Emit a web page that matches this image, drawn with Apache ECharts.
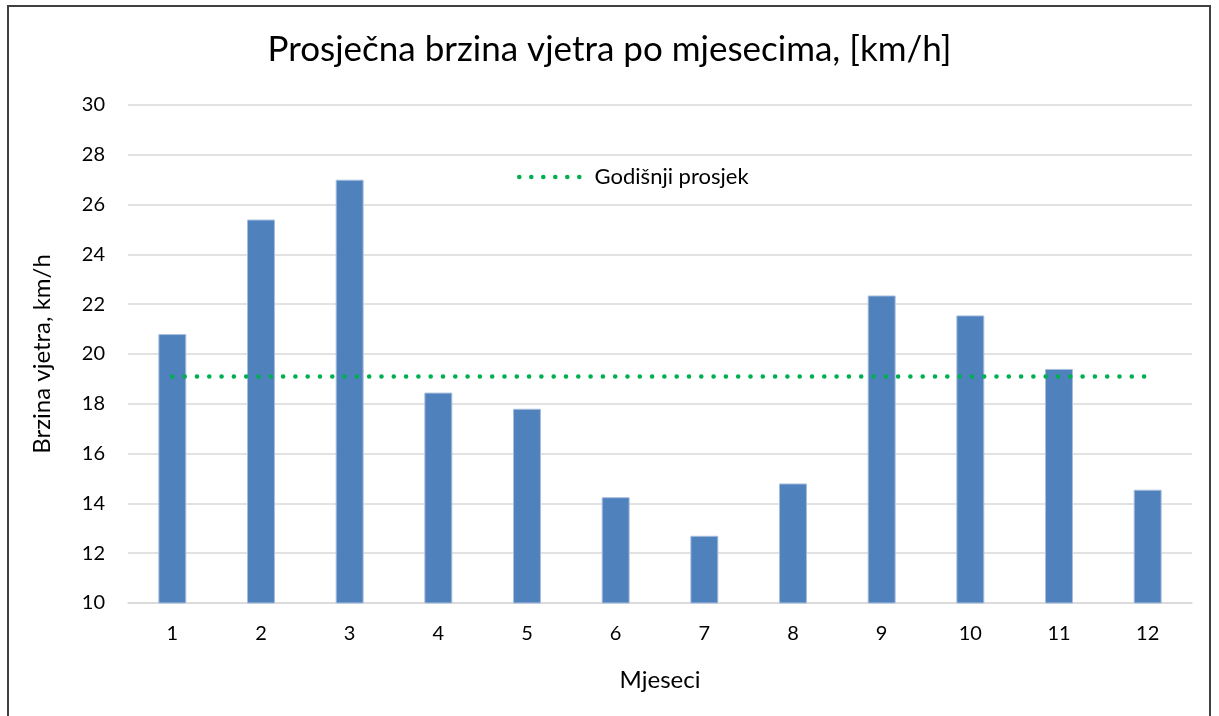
<!DOCTYPE html>
<html>
<head>
<meta charset="utf-8">
<script src="https://cdn.jsdelivr.net/npm/echarts@6/dist/echarts.min.js"></script>
<style>
html,body{margin:0;padding:0;background:#fff;}
#frame{position:absolute;left:7px;top:5px;width:1204px;height:720px;border:2px solid #404040;box-sizing:border-box;}
#chart{position:absolute;left:0;top:0;width:1219px;height:716px;}
</style>
</head>
<body>
<div id="frame"></div>
<div id="chart"></div>
<script>
const months = ['1','2','3','4','5','6','7','8','9','10','11','12'];
const windSpeed = [20.8, 25.4, 27.0, 18.45, 17.8, 14.25, 12.7, 14.8, 22.35, 21.55, 19.4, 14.55];
const annualAverage = [19.1, 19.1, 19.1, 19.1, 19.1, 19.1, 19.1, 19.1, 19.1, 19.1, 19.1, 19.1];
const yTicks = {min: 10, max: 30, interval: 2};

const FONT = 'Lato, "Noto Sans", sans-serif';
// legend icon: six round dots
let dotsPath = 'path://';
for (let k = 0; k < 6; k++) {
  const cx = 2.3 + 12 * k;
  dotsPath += 'M' + (cx - 2.3) + ',2.3a2.3,2.3 0 1,0 4.6,0a2.3,2.3 0 1,0 -4.6,0Z';
}
const chart = echarts.init(document.getElementById('chart'), null, {renderer: 'canvas'});
chart.setOption({
  backgroundColor: 'transparent',
  animation: false,
  title: {
    text: 'Prosječna brzina vjetra po mjesecima, [km/h]',
    left: 'center',
    top: 27,
    textStyle: {fontFamily: FONT, fontSize: 35, fontWeight: 'normal', color: '#000'}
  },
  legend: {
    data: [{name: 'Godišnji prosjek', icon: dotsPath}],
    left: 512,
    top: 161,
    itemWidth: 64.6,
    itemHeight: 4.6,
    itemGap: 10,
    itemStyle: {color: '#00B050', borderWidth: 0},
    textStyle: {fontFamily: FONT, fontSize: 22, color: '#000', padding: [0, 0, 0, 8]}
  },
  grid: {left: 128, right: 27, top: 105, bottom: 113},
  xAxis: {
    type: 'category',
    data: months,
    name: 'Mjeseci',
    nameLocation: 'middle',
    nameGap: 65,
    nameTextStyle: {fontFamily: FONT, fontSize: 24, color: '#000'},
    axisLine: {lineStyle: {color: '#D9D9D9', width: 1.5}},
    axisTick: {show: false},
    axisLabel: {margin: 21, fontFamily: FONT, fontSize: 20, color: '#000'}
  },
  yAxis: {
    type: 'value',
    min: yTicks.min, max: yTicks.max, interval: yTicks.interval,
    name: 'Brzina vjetra, km/h',
    nameLocation: 'middle',
    nameGap: 74,
    nameTextStyle: {fontFamily: FONT, fontSize: 24, color: '#000'},
    axisLine: {show: false},
    axisTick: {show: false},
    axisLabel: {margin: 23, fontFamily: FONT, fontSize: 20, color: '#000'},
    splitLine: {lineStyle: {color: '#D9D9D9', width: 1.5}}
  },
  series: [
    {
      name: 'Brzina vjetra',
      type: 'bar',
      data: windSpeed,
      barWidth: '31.5%',
      itemStyle: {color: '#4F81BD', borderColor: '#A7BEDD', borderWidth: 1}
    },
    {
      name: 'Godišnji prosjek',
      type: 'line',
      data: annualAverage,
      symbol: 'none',
      z: 5,
      lineStyle: {color: '#00B050', width: 4.5, type: [0.1, 12.2], cap: 'round'},
      itemStyle: {color: '#00B050'}
    }
  ]
});
</script>
</body>
</html>
